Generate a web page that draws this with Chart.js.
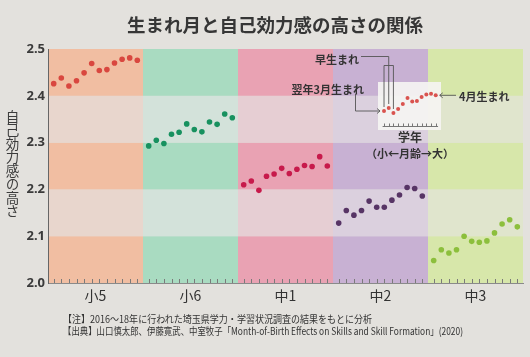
<!DOCTYPE html>
<html><head><meta charset="utf-8">
<script src="https://cdn.jsdelivr.net/npm/chart.js@4"></script>
<style>
html,body{margin:0;padding:0;background:#e3e1dd;}
#wrap{position:relative;width:530px;height:357px;overflow:hidden;font-family:"Noto Sans CJK JP","Noto Sans",sans-serif;color:#3a3a3a;}
canvas{position:absolute;}
.t{position:absolute;white-space:nowrap;line-height:1;}
</style></head><body>
<div id="wrap">
<canvas id="main" width="530" height="357" style="left:0;top:0"></canvas>
<canvas id="inset" width="240" height="125" style="left:290px;top:40px"></canvas>
<div class="t" id="title" style="left:0;width:550px;text-align:center;top:15px;font-size:18.5px;font-weight:bold;color:#363636;">生まれ月と自己効力感の高さの関係</div>
<div class="t" id="ytitle" style="left:5px;top:110px;font-size:13.5px;writing-mode:vertical-rl;color:#3c3c3c;">自己効力感の高さ</div>
<div class="t" style="right:171px;top:53.5px;font-size:11px;font-weight:bold;color:#333;">早生まれ</div>
<div class="t" style="right:166px;top:83.5px;font-size:11px;font-weight:bold;color:#333;">翌年3月生まれ</div>
<div class="t" style="left:459px;top:90.5px;font-size:11px;font-weight:bold;color:#333;">4月生まれ</div>
<div class="t" style="left:410px;top:131px;font-size:12px;font-weight:bold;color:#333;transform:translateX(-50%);">学年</div>
<div class="t" style="left:410px;top:147.5px;font-size:11px;font-weight:bold;color:#333;transform:translateX(-50%);">（小←月齢→大）</div>
<div class="t note" data-w="309" style="left:63px;top:314px;font-size:10px;transform-origin:0 0;color:#333;">【注】2016～18年に行われた埼玉県学力・学習状況調査の結果をもとに分析</div>
<div class="t note" data-w="400" style="left:63px;top:326px;font-size:10px;transform-origin:0 0;color:#333;">【出典】山口慎太郎、伊藤寛武、中室牧子「Month-of-Birth Effects on Skills and Skill Formation」(2020)</div>
</div>
<script>
// ---- data ----
const groups = ['小5', '小6', '中1', '中2', '中3'];
const months = ['3月', '2月', '1月', '12月', '11月', '10月', '9月', '8月', '7月', '6月', '5月', '4月'];
const yTicks = [2.0, 2.1, 2.2, 2.3, 2.4, 2.5];
const valuesE5 = [2.426, 2.438, 2.421, 2.432, 2.449, 2.469, 2.454, 2.456, 2.470, 2.478, 2.481, 2.476];
const valuesE6 = [2.293, 2.305, 2.298, 2.318, 2.322, 2.340, 2.328, 2.323, 2.344, 2.339, 2.361, 2.353];
const valuesJ1 = [2.210, 2.218, 2.198, 2.228, 2.233, 2.245, 2.234, 2.243, 2.251, 2.249, 2.270, 2.250];
const valuesJ2 = [2.128, 2.155, 2.145, 2.155, 2.175, 2.162, 2.162, 2.177, 2.188, 2.204, 2.202, 2.186];
const valuesJ3 = [2.048, 2.071, 2.064, 2.071, 2.100, 2.089, 2.087, 2.090, 2.107, 2.126, 2.135, 2.120];
// inset example (relative height, schematic)
const insetValues = [0, 3, -2, 2, 7, 13, 9.5, 10, 14, 16.5, 17.3, 15.7];

// ---- styles ----
const seriesValues = [valuesE5, valuesE6, valuesJ1, valuesJ2, valuesJ3];
const dotColors = ['#d9473f', '#17915f', '#c71a4b', '#573465', '#8cbf3c'];
const bandStrong = ['#f1bea2', '#a9dbc1', '#e9a2b3', '#c8b1d3', '#d7e7aa'];
const bandLight  = ['#e8d6cd', '#d3e2da', '#e6ced3', '#dbd0de', '#e0e5cd'];
const GW = 12.5, PAD = 0.75;
const gx = (g, m) => g * GW + PAD + m;

const bands = {
  id: 'bands',
  beforeDraw(chart) {
    const {ctx, scales: {x, y}} = chart;
    groups.forEach((g, gi) => {
      const x0 = x.getPixelForValue(gi * GW), x1 = x.getPixelForValue((gi + 1) * GW);
      for (let k = 0; k < yTicks.length - 1; k++) {
        const y0 = y.getPixelForValue(yTicks[k]), y1 = y.getPixelForValue(yTicks[k + 1]);
        ctx.fillStyle = k % 2 === 0 ? bandStrong[gi] : bandLight[gi];
        ctx.fillRect(x0, y1, x1 - x0, y0 - y1);
      }
    });
  },
  afterDraw(chart) {
    const {ctx, scales: {x, y}} = chart;
    const yb = y.getPixelForValue(yTicks[0]);
    ctx.strokeStyle = '#7a7a7a'; ctx.lineWidth = 1;
    ctx.beginPath();
    groups.forEach((g, gi) => months.forEach((m, mi) => {
      const px = Math.round(x.getPixelForValue(gx(gi, mi))) + 0.5;
      ctx.moveTo(px, yb); ctx.lineTo(px, yb - 4);
    }));
    ctx.stroke();
  }
};

new Chart(document.getElementById('main'), {
  type: 'scatter',
  data: {
    datasets: seriesValues.map((vals, gi) => ({
      label: groups[gi],
      data: vals.map((v, mi) => ({x: gx(gi, mi), y: v})),
      backgroundColor: dotColors[gi],
      borderWidth: 0,
      pointRadius: 2.8
    }))
  },
  options: {
    responsive: false, animation: false, devicePixelRatio: 1,
    layout: {padding: {left: 0, top: 49, right: 7, bottom: 0}},
    plugins: {legend: {display: false}, tooltip: {enabled: false}},
    scales: {
      x: {
        type: 'linear', min: 0, max: groups.length * GW,
        grid: {display: false, drawTicks: false},
        border: {display: true, color: '#8a8a8a', width: 1},
        afterBuildTicks: s => { s.ticks = groups.map((g, i) => ({value: i * GW + GW / 2})); },
        afterFit: s => { s.height = 74; },
        ticks: {autoSkip: false, maxRotation: 0, padding: 4, color: '#333',
          font: {family: '"Noto Sans CJK JP"', size: 14},
          callback: (v, i) => groups[i]}
      },
      y: {
        min: yTicks[0], max: yTicks[yTicks.length - 1],
        grid: {display: false, drawTicks: false},
        border: {display: true, color: '#666', width: 1},
        afterBuildTicks: s => { s.ticks = yTicks.map(v => ({value: v})); },
        afterFit: s => { s.width = 48; },
        ticks: {padding: 3, color: '#3a3a3a', font: {family: '"Noto Sans"', size: 13, weight: 'bold'},
          callback: v => Number(v).toFixed(1)}
      }
    }
  },
  plugins: [bands]
});

// ---- inset ----
const OX = 290, OY = 40;
const insetDeco = {
  id: 'insetDeco',
  beforeDatasetsDraw(chart) {
    const {ctx, chartArea: a, scales: {x}} = chart;
    ctx.fillStyle = 'rgba(245,244,242,0.92)';
    ctx.fillRect(a.left, a.top, a.right - a.left, a.bottom - a.top);
    const yb = a.bottom - 3.5;
    ctx.strokeStyle = '#777'; ctx.lineWidth = 1;
    ctx.beginPath();
    ctx.moveTo(x.getPixelForValue(-0.3), yb); ctx.lineTo(x.getPixelForValue(11.5), yb);
    months.forEach((m, i) => { const px = Math.round(x.getPixelForValue(i)) + 0.5; ctx.moveTo(px, yb); ctx.lineTo(px, yb - 3); });
    ctx.stroke();
  },
  afterDatasetsDraw(chart) {
    const {ctx} = chart;
    const p = chart.getDatasetMeta(0).data;
    ctx.strokeStyle = '#555'; ctx.lineWidth = 0.9;
    ctx.beginPath();
    // 早生まれ bracket
    ctx.moveTo(361 - OX, 56.5 - OY); ctx.lineTo(p[1].x, 56.5 - OY); ctx.lineTo(p[1].x, p[1].y - 4);
    ctx.moveTo(p[0].x, p[0].y - 4); ctx.lineTo(p[0].x, 65.5 - OY); ctx.lineTo(p[2].x, 65.5 - OY); ctx.lineTo(p[2].x, p[2].y - 4);
    // 翌年3月生まれ
    ctx.moveTo(355.5 - OX, 94 - OY); ctx.lineTo(355.5 - OX, p[0].y); ctx.lineTo(p[0].x - 4, p[0].y);
    // 4月生まれ
    ctx.moveTo(456 - OX, p[11].y); ctx.lineTo(p[11].x + 4, p[11].y);
    ctx.stroke();
    // arrowheads
    ctx.beginPath();
    ctx.moveTo(p[0].x - 7, p[0].y - 2.5); ctx.lineTo(p[0].x - 4, p[0].y); ctx.lineTo(p[0].x - 7, p[0].y + 2.5);
    ctx.moveTo(p[11].x + 7, p[11].y - 2.5); ctx.lineTo(p[11].x + 4, p[11].y); ctx.lineTo(p[11].x + 7, p[11].y + 2.5);
    ctx.stroke();
  }
};
new Chart(document.getElementById('inset'), {
  type: 'scatter',
  data: {datasets: [{data: insetValues.map((v, i) => ({x: i, y: v})), backgroundColor: '#d9534f', borderWidth: 0, pointRadius: 2}]},
  options: {
    responsive: false, animation: false, devicePixelRatio: 1,
    layout: {padding: {left: 88, right: 89, top: 42, bottom: 35}},
    plugins: {legend: {display: false}, tooltip: {enabled: false}},
    scales: {x: {display: false, min: -1.28, max: 12.12}, y: {display: false, min: -19, max: 29}}
  },
  plugins: [insetDeco]
});

// fit note widths
document.querySelectorAll('.note').forEach(el => {
  const w = el.getBoundingClientRect().width;
  el.style.transform = 'scaleX(' + (parseFloat(el.dataset.w) / w) + ')';
});
</script>
</body></html>
